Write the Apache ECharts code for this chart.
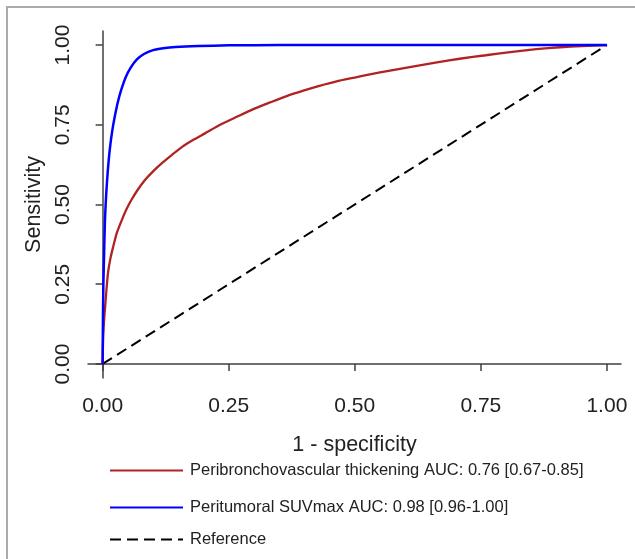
<!DOCTYPE html>
<html><head><meta charset="utf-8">
<script src="https://cdn.jsdelivr.net/npm/echarts@6/dist/echarts.min.js"></script>
<style>html,body{margin:0;padding:0;background:#fff}#c{width:635px;height:559px}</style>
</head><body><div id="c"></div>
<script>
var ticks = [0, 0.25, 0.5, 0.75, 1];
var tickLabels = ['0.00', '0.25', '0.50', '0.75', '1.00'];
var seriesNames = ['Peribronchovascular thickening AUC: 0.76 [0.67-0.85]', 'Peritumoral SUVmax AUC: 0.98 [0.96-1.00]', 'Reference'];
var pbvThickening = [[0,0],[0.001,0.08],[0.003,0.14],[0.005,0.18],[0.008,0.24],[0.011,0.29],[0.016,0.335],[0.021,0.368],[0.028,0.41],[0.038,0.451],[0.047,0.484],[0.057,0.514],[0.07,0.547],[0.084,0.577],[0.1,0.604],[0.117,0.629],[0.137,0.655],[0.157,0.68],[0.18,0.703],[0.203,0.723],[0.233,0.75],[0.266,0.775],[0.3,0.8],[0.332,0.82],[0.365,0.84],[0.398,0.857],[0.43,0.872],[0.464,0.886],[0.5,0.898],[0.53,0.908],[0.57,0.92],[0.609,0.931],[0.66,0.945],[0.708,0.957],[0.76,0.968],[0.808,0.978],[0.86,0.987],[0.907,0.993],[0.95,0.997],[1,1]];
var suvMax = [[0,0],[0.0006,0.14],[0.0015,0.25],[0.003,0.35],[0.0046,0.45],[0.007,0.53],[0.01,0.6],[0.014,0.67],[0.019,0.73],[0.024,0.775],[0.03,0.82],[0.037,0.86],[0.046,0.9],[0.056,0.93],[0.068,0.955],[0.082,0.972],[0.1,0.984],[0.12,0.99],[0.145,0.994],[0.19,0.997],[0.25,0.999],[0.35,1],[1,1]];
var reference = [[0,0],[1,1]];

var chart = echarts.init(document.getElementById('c'), null, {renderer:'canvas'});
var font = 'Liberation Sans, Arial, sans-serif';
function axisCommon(){
  return {
    type:'value', min:-0.029, max:1.028,
    axisLine:{show:true, lineStyle:{color:'#404040', width:1.5}},
    axisTick:{show:true, inside:false, length:7, customValues:ticks, lineStyle:{color:'#404040', width:1.5}},
    axisLabel:{customValues:ticks, fontFamily:font, fontSize:21, color:'#222',
      formatter:function(v){ var i=ticks.indexOf(v); return i>=0?tickLabels[i]:''; }},
    splitLine:{show:false},
    nameLocation:'middle',
    nameTextStyle:{fontFamily:font, fontSize:21.5, color:'#222'}
  };
}
var xA = axisCommon(); xA.name='1 - specificity'; xA.nameGap=56; xA.axisLabel.margin=18;
var yA = axisCommon(); yA.min=-0.044; yA.max=1.044; yA.name='Sensitivity'; yA.nameGap=43; yA.axisLabel.rotate=90; yA.axisLabel.margin=14;

function legendAt(name, top){
  return {data:[name], left:104, top:top, itemWidth:73, itemHeight:1, orient:'vertical',
    textStyle:{fontFamily:font, fontSize:16.5, color:'#222', padding:[0,0,0,2]}, selectedMode:false};
}
chart.setOption({
  animation:false,
  grid:{left:88, right:14, top:31, bottom:181, containLabel:false},
  xAxis:xA, yAxis:yA,
  legend:[legendAt(seriesNames[0],457), legendAt(seriesNames[1],494), legendAt(seriesNames[2],526)],
  graphic:[{type:'rect', shape:{x:7,y:7,width:700,height:700}, style:{fill:'none', stroke:'#aaaaaa', lineWidth:2}, silent:true}],
  series:[
    {name:seriesNames[2], type:'line', data:reference, symbol:'none', lineStyle:{color:'#000', width:2, type:[11,6]}, itemStyle:{color:'#000'}},
    {name:seriesNames[0], type:'line', data:pbvThickening, symbol:'none', smooth:0.2, lineStyle:{color:'#B22222', width:2.3}, itemStyle:{color:'#B22222'}},
    {name:seriesNames[1], type:'line', data:suvMax, symbol:'none', smooth:0.2, lineStyle:{color:'#0000FF', width:2.5}, itemStyle:{color:'#0000FF'}}
  ]
});
</script></body></html>
